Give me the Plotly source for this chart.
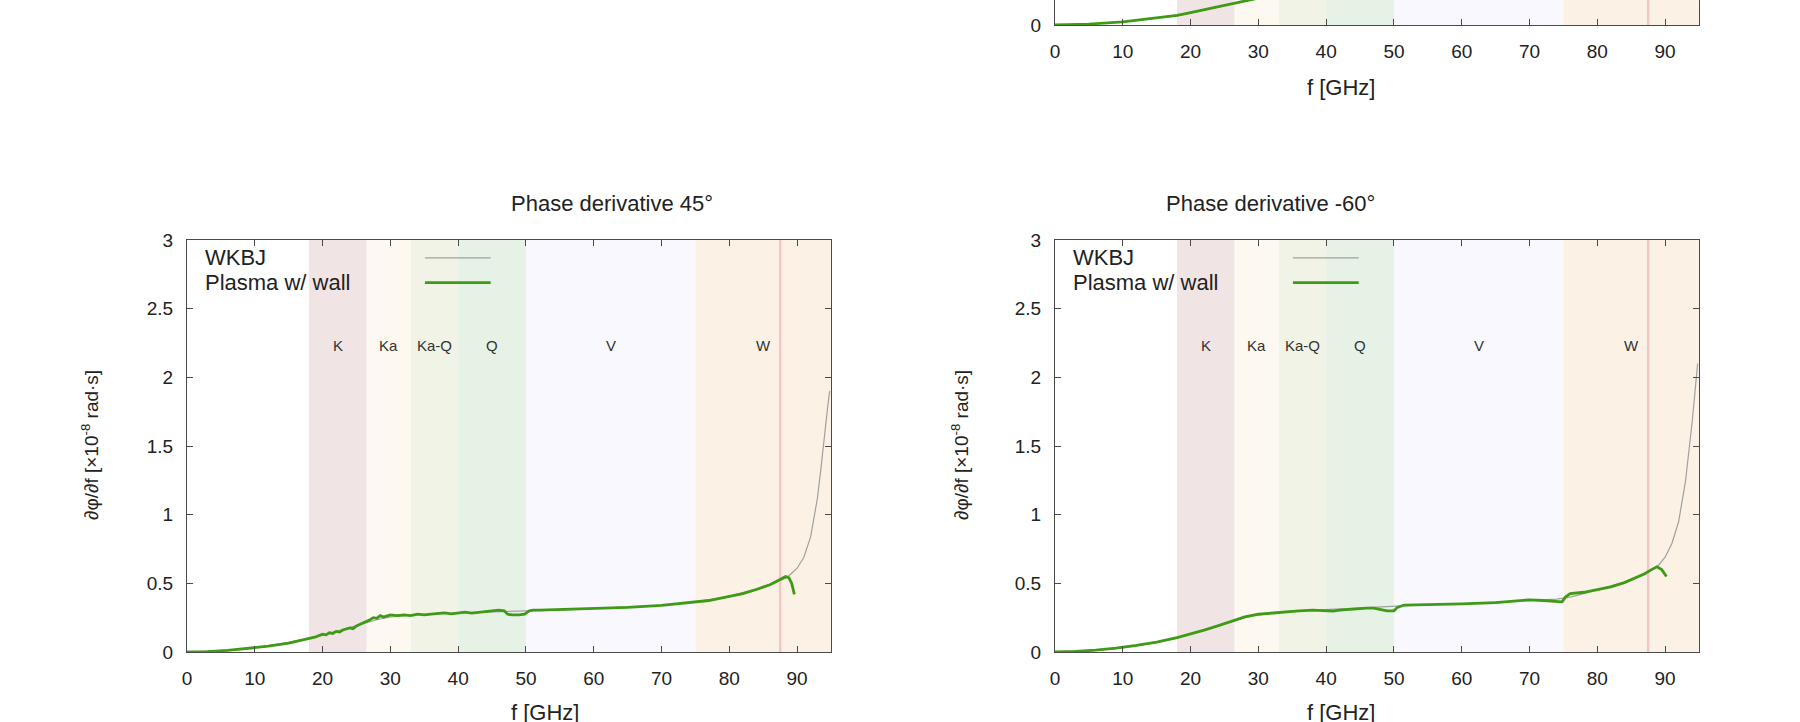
import plotly.graph_objects as go

# ---------------- data ----------------
# Phase derivative 45 deg
f_wkbj_45 = [0, 5, 10, 15, 18, 20, 22, 24, 26, 28, 30, 32, 35, 40, 45, 48, 50, 55, 60, 65, 70, 75, 80,
             84, 86, 87, 88, 89, 90, 91, 92, 93, 93.5, 94, 94.5, 94.8]
wkbj_45 = [0, 0.01, 0.03, 0.07, 0.10, 0.12, 0.15, 0.18, 0.21, 0.235, 0.255, 0.265, 0.275, 0.285, 0.295,
           0.30, 0.30, 0.305, 0.315, 0.325, 0.34, 0.365, 0.405, 0.46, 0.49, 0.51, 0.53, 0.565, 0.61, 0.69,
           0.84, 1.12, 1.33, 1.58, 1.78, 1.90]
f_wall_45 = [0, 3, 6, 9, 12, 15, 17, 18, 19, 19.5, 20, 20.5, 21, 21.5, 22, 22.5, 23, 24, 24.5, 25, 26,
             27, 27.5, 28, 28.5, 29, 30, 31, 32, 33, 34, 35, 36, 37, 38, 39, 40, 41, 42, 43, 44, 45,
             46, 46.8, 47.3, 48, 49, 49.8, 50.5, 51, 52, 55, 60, 65, 70, 75, 77, 80, 82, 84, 86, 87,
             88.3, 88.8, 89.2, 89.5, 89.6]
wall_45 = [0, 0.003, 0.012, 0.025, 0.042, 0.064, 0.085, 0.10, 0.11, 0.12, 0.13, 0.125, 0.14, 0.135,
           0.15, 0.145, 0.16, 0.175, 0.17, 0.19, 0.21, 0.235, 0.25, 0.245, 0.265, 0.255, 0.27, 0.265,
           0.27, 0.265, 0.275, 0.27, 0.275, 0.28, 0.285, 0.278, 0.285, 0.29, 0.283, 0.29, 0.295, 0.30,
           0.305, 0.30, 0.275, 0.27, 0.27, 0.275, 0.30, 0.305, 0.305, 0.31, 0.315, 0.325, 0.34, 0.365,
           0.375, 0.405, 0.425, 0.455, 0.49, 0.515, 0.55, 0.54, 0.50, 0.44, 0.42]

# Phase derivative -60 deg
f_wkbj_m60 = [0, 5, 10, 15, 18, 20, 22, 24, 26, 28, 30, 32, 34, 36, 38, 40, 42, 44, 46, 48, 50, 52, 55,
              60, 65, 70, 74, 75, 76, 78, 80, 82, 84, 86, 87, 88, 89, 90, 91, 92, 93, 94, 94.8]
wkbj_m60 = [0, 0.008, 0.03, 0.07, 0.10, 0.13, 0.16, 0.19, 0.22, 0.25, 0.27, 0.285, 0.295, 0.30, 0.305,
            0.305, 0.31, 0.32, 0.325, 0.33, 0.335, 0.34, 0.345, 0.35, 0.36, 0.375, 0.385, 0.39, 0.40,
            0.425, 0.455, 0.48, 0.51, 0.55, 0.575, 0.60, 0.63, 0.69, 0.79, 0.95, 1.24, 1.68, 2.10]
f_wall_m60 = [0, 3, 6, 9, 12, 15, 18, 20, 22, 24, 26, 28, 30, 32, 34, 36, 38, 40, 41, 42, 44, 46, 47,
              48, 49, 50, 50.5, 51.5, 55, 60, 65, 68, 70, 72, 74, 74.8, 75.3, 76, 78, 80, 82, 84, 86,
              87, 88, 88.8, 89.5, 90.2]
wall_m60 = [0, 0.004, 0.014, 0.028, 0.048, 0.072, 0.104, 0.13, 0.16, 0.19, 0.225, 0.255, 0.275, 0.285,
            0.295, 0.30, 0.305, 0.30, 0.297, 0.305, 0.315, 0.32, 0.32, 0.31, 0.30, 0.30, 0.325, 0.342,
            0.345, 0.35, 0.36, 0.375, 0.38, 0.375, 0.37, 0.365, 0.40, 0.425, 0.435, 0.455, 0.475, 0.505,
            0.545, 0.57, 0.60, 0.62, 0.60, 0.55]

# Upper panel (only its lowest strip is visible)
f_top = [0, 5, 10, 15, 18, 20, 22, 24, 26, 28, 30, 32, 35]
wkbj_top = [0, 0.007, 0.022, 0.05, 0.068, 0.088, 0.11, 0.132, 0.153, 0.173, 0.195, 0.215, 0.245]
wall_top = [0, 0.007, 0.023, 0.051, 0.07, 0.09, 0.112, 0.134, 0.155, 0.175, 0.197, 0.217, 0.247]

band_names = ["K", "Ka", "Ka-Q", "Q", "V", "W"]
band_lo = [18, 26.5, 33, 40, 50, 75]
band_hi = [26.5, 33, 40, 50, 75, 110]
marker_freq = 87.5

x_ticks = [0, 10, 20, 30, 40, 50, 60, 70, 80, 90]
y_ticks = [0, 0.5, 1, 1.5, 2, 2.5, 3]
y_tick_text = ["0", "0.5", "1", "1.5", "2", "2.5", "3"]

# ---------------- style ----------------
W, H = 1800, 722
FONT = "Liberation Sans"
band_colors = ["#f1e4e4", "#fdf8f0", "#f1f3e6", "#e7f2e7", "#f8f8fe", "#fbf2e5"]
GREY = "#a0a0a0"
GREEN = "#3f9b16"
FRAME = "#4a4a4a"
XMAX = 95


def px(x):
    return x / W


def py(y):
    return 1 - y / H


fig = go.Figure()

panels = [
    ("", [px(187), px(831)], [py(652), py(240)], [0, 3],
     (f_wkbj_45, wkbj_45, f_wall_45, wall_45)),
    ("2", [px(1055), px(1699)], [py(652), py(240)], [0, 3],
     (f_wkbj_m60, wkbj_m60, f_wall_m60, wall_m60)),
    ("3", [px(1055), px(1699)], [py(25), 1.0], [0, 25 / (412 / 3)],
     (f_top, wkbj_top, f_top, wall_top)),
]

shapes = []
annotations = []

for suf, xd, yd, yr, (fw, w, fp, p) in panels:
    xa = "x" + suf
    ya = "y" + suf
    fig.add_trace(go.Scatter(x=fw, y=w, mode="lines", xaxis=xa, yaxis=ya,
                             line=dict(color=GREY, width=1.2), showlegend=False,
                             name="WKBJ"))
    fig.add_trace(go.Scatter(x=fp, y=p, mode="lines", xaxis=xa, yaxis=ya,
                             line=dict(color=GREEN, width=2.8),
                             showlegend=False, name="Plasma w/ wall"))
    top = suf == "3"
    xaxis = dict(domain=xd, range=[0, XMAX], anchor=ya, tickvals=x_ticks,
                 ticks="inside", ticklen=6, tickcolor=FRAME, showline=True,
                 linecolor=FRAME, linewidth=1.3, mirror=False if top else "ticks",
                 showgrid=False, zeroline=False, ticklabelstandoff=9, automargin=False,
                 tickfont=dict(family=FONT, size=19, color="#222"))
    yaxis = dict(domain=yd, range=yr, anchor=xa,
                 tickvals=[0] if top else y_ticks,
                 ticktext=["0"] if top else y_tick_text,
                 ticks="inside", ticklen=6, tickcolor=FRAME, showline=True,
                 linecolor=FRAME, linewidth=1.3, mirror="ticks",
                 showgrid=False, zeroline=False, ticklabelstandoff=9, automargin=False,
                 tickfont=dict(family=FONT, size=19, color="#222"))
    fig.layout["xaxis" + suf] = xaxis
    fig.layout["yaxis" + suf] = yaxis

    for lo, hi, col in zip(band_lo, band_hi, band_colors):
        shapes.append(dict(type="rect", xref=xa, yref=ya + " domain", x0=lo, x1=min(hi, XMAX),
                           y0=0, y1=1, fillcolor=col, line=dict(width=0), layer="below"))
    shapes.append(dict(type="line", xref=xa, yref=ya + " domain", x0=marker_freq, x1=marker_freq,
                       y0=0, y1=1, line=dict(color="#f3c6c6", width=2.5), layer="below"))

    if not top:
        for name, lo, hi in zip(band_names, band_lo, band_hi):
            annotations.append(dict(x=(lo + min(hi, XMAX)) / 2, y=2.23, xref=xa, yref=ya,
                                    text=name, showarrow=False,
                                    font=dict(family=FONT, size=15, color="#333")))
        annotations.append(dict(x=2.4, y=2.87, xref=xa, yref=ya, text="WKBJ", xanchor="left",
                                showarrow=False, font=dict(family=FONT, size=22, color="#222")))
        annotations.append(dict(x=2.4, y=2.69, xref=xa, yref=ya, text="Plasma w/ wall",
                                xanchor="left", showarrow=False,
                                font=dict(family=FONT, size=22, color="#222")))
        shapes.append(dict(type="line", xref=xa, yref=ya, x0=35.1, x1=44.8, y0=2.87, y1=2.87,
                           line=dict(color=GREY, width=1.2)))
        shapes.append(dict(type="line", xref=xa, yref=ya, x0=35.1, x1=44.8, y0=2.69, y1=2.69,
                           line=dict(color=GREEN, width=2.8)))

for cx, title in [(509, "Phase derivative 45°"), (1377, "Phase derivative -60°")]:
    annotations.append(dict(x=px(cx), y=py(204), xref="paper", yref="paper", text=title,
                            showarrow=False, yanchor="middle",
                            font=dict(family=FONT, size=22, color="#222")))
for cx, cy in [(509, 712), (1377, 712), (1377, 88)]:
    annotations.append(dict(x=px(cx), y=py(cy), xref="paper", yref="paper", text="f [GHz]",
                            showarrow=False, yanchor="middle",
                            font=dict(family=FONT, size=22, color="#222")))
for cx in [90, 960]:
    annotations.append(dict(x=px(cx), y=py(445), xref="paper", yref="paper",
                            text="∂φ/∂f [×10<sup>-8</sup> rad·s]", textangle=-90,
                            showarrow=False, xanchor="center", yanchor="middle",
                            font=dict(family=FONT, size=19, color="#222")))

fig.update_layout(width=W, height=H,
                  margin=dict(l=0, r=0, t=0, b=0, pad=0, autoexpand=False),
                  paper_bgcolor="white", plot_bgcolor="white",
                  shapes=shapes, annotations=annotations, showlegend=False)

fig.write_html("out.html", config={"displayModeBar": False},
               post_script="document.body.style.margin='0';document.body.style.overflow='hidden';")
